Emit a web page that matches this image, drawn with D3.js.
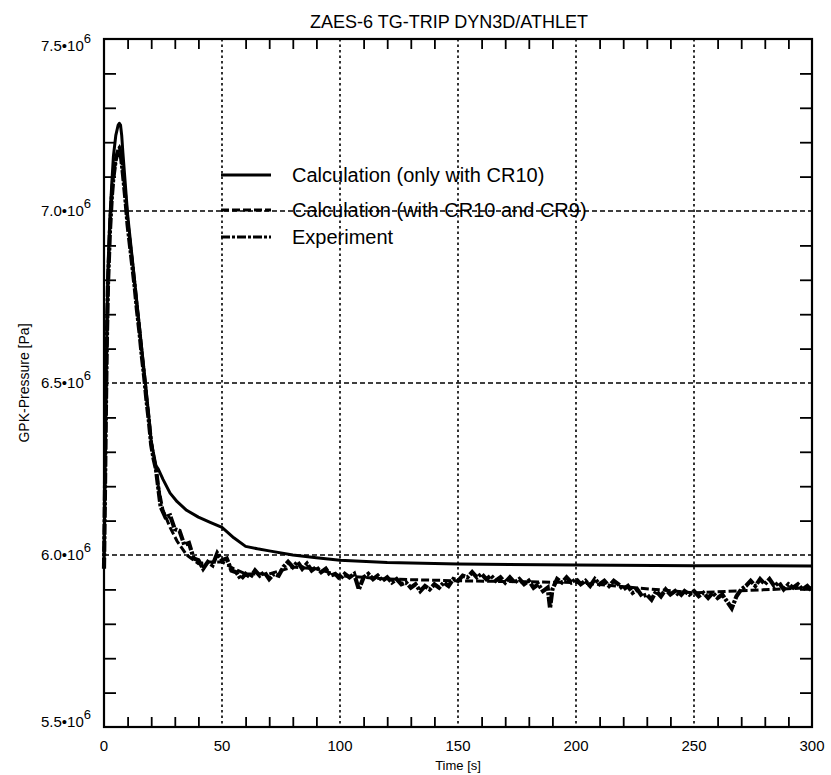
<!DOCTYPE html>
<html>
<head>
<meta charset="utf-8">
<script src="https://cdn.jsdelivr.net/npm/d3@7"></script>
<style>
  html, body { margin: 0; padding: 0; background: #fff; }
  svg { display: block; font-family: "Liberation Sans", Arial, Helvetica, sans-serif; }
</style>
</head>
<body>
<svg id="chart" width="831" height="775"></svg>
<script>
// ---- data (pressure in units of 1e6 Pa, time in s) ----
const titleText = "ZAES-6  TG-TRIP  DYN3D/ATHLET";
const xLabel = "Time [s]";
const yLabel = "GPK-Pressure [Pa]";
const xTickLabels = [0, 50, 100, 150, 200, 250, 300];
const yTickLabels = [5.5, 6.0, 6.5, 7.0, 7.5];
const legendNames = ["Calculation (only with CR10)", "Calculation (with CR10 and CR9)", "Experiment"];

const calcTime = [0, 0.4, 0.8, 1.2, 1.7, 2.5, 3.3, 4, 5, 6, 6.5, 7, 7.5, 8, 9, 10, 12, 14, 16, 18, 20, 22, 23,
  25, 28, 31, 35, 40, 45, 50, 55, 60, 65, 70, 80, 90, 100, 120, 150, 200, 250, 300];
const calcOnlyCR10 = [5.97, 6.2, 6.45, 6.65, 6.83, 6.98, 7.08, 7.16, 7.22, 7.25, 7.255, 7.25, 7.22, 7.17, 7.08, 6.99, 6.86, 6.73, 6.6, 6.47, 6.33, 6.26, 6.25,
  6.22, 6.18, 6.155, 6.13, 6.11, 6.095, 6.08, 6.05, 6.025, 6.018, 6.012, 6.0, 5.992, 5.985, 5.978, 5.974, 5.971, 5.969, 5.968];
const calcCR10CR9 = [5.97, 6.2, 6.44, 6.63, 6.8, 6.95, 7.04, 7.1, 7.15, 7.18, 7.185, 7.175, 7.15, 7.12, 7.05, 6.97, 6.85, 6.72, 6.59, 6.46, 6.33, 6.25, 6.2,
  6.13, 6.08, 6.04, 6.0, 5.975, 5.98, 5.98, 5.96, 5.945, 5.945, 5.945, 5.965, 5.96, 5.94, 5.93, 5.925, 5.92, 5.89, 5.905];

const expTime = [0, 0.4, 0.8, 1.2, 1.7, 2.5, 3.3, 4, 5, 6, 6.5, 7, 8, 9, 10, 11, 12, 13, 14, 15, 16, 17, 18, 19, 20, 21, 22,
  24, 26, 28, 30, 32, 34, 36, 38, 40, 42, 44, 46, 48, 50, 52, 54, 56, 58, 60, 62, 64, 66, 68, 70,
  72, 74, 76, 78, 80, 82, 84, 86, 88, 90, 92, 94, 96, 98, 100, 102, 104, 106, 108, 110, 112, 114, 116, 118, 120,
  122, 124, 126, 128, 130, 132, 134, 136, 138, 140, 142, 144, 146, 148, 150, 152, 154, 156, 158, 160, 162, 164, 166, 168, 170,
  172, 174, 176, 178, 180, 182, 184, 186, 188, 189, 190, 192, 194, 196, 198, 200, 202, 204, 206, 208, 210, 212, 214, 216, 218, 220,
  222, 224, 226, 228, 230, 232, 234, 236, 238, 240, 242, 244, 246, 248, 250, 252, 254, 256, 258, 260, 262, 264, 266, 268, 270,
  272, 274, 276, 278, 280, 282, 284, 286, 288, 290, 292, 294, 296, 298, 300];
const expPressure = [5.96, 6.18, 6.42, 6.62, 6.79, 6.94, 7.04, 7.1, 7.15, 7.175, 7.18, 7.17, 7.11, 7.04, 6.96, 6.9, 6.84, 6.78, 6.71, 6.65, 6.58, 6.52, 6.45, 6.39, 6.32, 6.28, 6.25,
  6.14, 6.11, 6.115, 6.075, 6.07, 6.03, 6.035, 5.99, 5.985, 5.96, 5.98, 5.97, 6.005, 5.985, 5.99, 5.955, 5.95, 5.93, 5.945, 5.935, 5.955, 5.94, 5.95, 5.93,
  5.945, 5.94, 5.965, 5.98, 5.965, 5.98, 5.96, 5.975, 5.955, 5.965, 5.95, 5.96, 5.94, 5.945, 5.93, 5.945, 5.935, 5.945, 5.9, 5.935, 5.945, 5.93, 5.94, 5.925, 5.935,
  5.92, 5.93, 5.915, 5.92, 5.905, 5.915, 5.895, 5.91, 5.9, 5.915, 5.905, 5.92, 5.91, 5.93, 5.925, 5.94, 5.935, 5.95, 5.935, 5.945, 5.93, 5.94, 5.925, 5.935, 5.92,
  5.935, 5.92, 5.93, 5.915, 5.925, 5.905, 5.915, 5.895, 5.905, 5.845, 5.9, 5.93, 5.92, 5.935, 5.92, 5.93, 5.915, 5.925, 5.91, 5.93, 5.915, 5.925, 5.91, 5.925, 5.915, 5.9,
  5.91, 5.89, 5.9, 5.88, 5.885, 5.87, 5.895, 5.88, 5.9, 5.885, 5.895, 5.88, 5.895, 5.885, 5.895, 5.88, 5.89, 5.875, 5.89, 5.875, 5.885, 5.865, 5.845, 5.88, 5.9,
  5.91, 5.925, 5.91, 5.93, 5.915, 5.93, 5.91, 5.92, 5.9, 5.915, 5.905, 5.915, 5.9, 5.91, 5.895];

// ---- layout ----
const svg = d3.select("#chart");
const m = { left: 104, right: 812, top: 39, bottom: 727 };
const x = d3.scaleLinear().domain([0, 300]).range([m.left, m.right]);
const y = d3.scaleLinear().domain([5.5, 7.5]).range([m.bottom, m.top]);

// grid lines
const g = svg.append("g");
g.selectAll(".vgrid").data(xTickLabels.filter(v => v > 0 && v < 300)).enter().append("line")
  .attr("x1", d => x(d)).attr("x2", d => x(d)).attr("y1", m.top).attr("y2", m.bottom)
  .attr("stroke", "#000").attr("stroke-width", 1.6).attr("stroke-dasharray", "2.5,3");
g.selectAll(".hgrid").data(yTickLabels.filter(v => v > 5.5 && v < 7.5)).enter().append("line")
  .attr("x1", m.left).attr("x2", m.right).attr("y1", d => y(d)).attr("y2", d => y(d))
  .attr("stroke", "#000").attr("stroke-width", 1.6).attr("stroke-dasharray", "5,3");

// minor ticks via axes
const xMinor = d3.range(10, 300, 10).filter(v => v % 50 !== 0);
const yMinor = d3.range(56, 75, 1).map(v => v / 10).filter(v => Math.round(v * 10) % 5 !== 0);
svg.append("g").attr("transform", `translate(0,${m.bottom})`)
  .call(d3.axisTop(x).tickValues(xMinor).tickSize(10).tickFormat(""))
  .call(s => { s.select(".domain").remove(); s.selectAll("line").attr("stroke-width", 1.8); });
svg.append("g").attr("transform", `translate(0,${m.top})`)
  .call(d3.axisBottom(x).tickValues(xMinor).tickSize(10).tickFormat(""))
  .call(s => { s.select(".domain").remove(); s.selectAll("line").attr("stroke-width", 1.8); });
svg.append("g").attr("transform", `translate(${m.left},0)`)
  .call(d3.axisRight(y).tickValues(yMinor).tickSize(12).tickFormat(""))
  .call(s => { s.select(".domain").remove(); s.selectAll("line").attr("stroke-width", 1.8); });
svg.append("g").attr("transform", `translate(${m.right},0)`)
  .call(d3.axisLeft(y).tickValues(yMinor).tickSize(12).tickFormat(""))
  .call(s => { s.select(".domain").remove(); s.selectAll("line").attr("stroke-width", 1.8); });

// data lines
const line = d3.line().x(d => x(d[0])).y(d => y(d[1]));
const exp = expTime.map((t, i) => [t, expPressure[i]]);
const c2 = calcTime.map((t, i) => [t, calcCR10CR9[i]]);
const c1 = calcTime.map((t, i) => [t, calcOnlyCR10[i]]);
svg.append("path").datum(c2).attr("d", line).attr("fill", "none").attr("stroke", "#000")
  .attr("stroke-width", 3).attr("stroke-dasharray", "8,3");
svg.append("path").datum(exp).attr("d", line).attr("fill", "none").attr("stroke", "#000")
  .attr("stroke-width", 4.2).attr("stroke-dasharray", "11,1.5,3,1.5").attr("stroke-linejoin", "miter");
svg.append("path").datum(c1).attr("d", line).attr("fill", "none").attr("stroke", "#000")
  .attr("stroke-width", 3).attr("stroke-linejoin", "round");

// frame
svg.append("rect").attr("x", m.left).attr("y", m.top).attr("width", m.right - m.left).attr("height", m.bottom - m.top)
  .attr("fill", "none").attr("stroke", "#000").attr("stroke-width", 2.2);

// x tick labels
svg.selectAll(".xl").data(xTickLabels).enter().append("text")
  .attr("x", d => x(d)).attr("y", 751).attr("text-anchor", "middle")
  .attr("font-size", 15).text(d => d);

// y tick labels with superscript
const yl = svg.selectAll(".yl").data(yTickLabels).enter().append("text")
  .attr("x", 91).attr("y", d => y(d) + (d === 7.5 ? 12 : d === 5.5 ? 0 : 5))
  .attr("text-anchor", "end").attr("font-size", 15);
yl.append("tspan").text(d => d.toFixed(1) + "\u202210");
yl.append("tspan").attr("dy", -8).attr("font-size", 13).text("6");

// axis titles
svg.append("text").attr("x", (m.left + m.right) / 2).attr("y", 770).attr("text-anchor", "middle")
  .attr("font-size", 13).text(xLabel);
svg.append("text").attr("transform", `translate(29,${(m.top + m.bottom) / 2}) rotate(-90)`)
  .attr("text-anchor", "middle").attr("font-size", 14).text(yLabel);
svg.append("text").attr("x", 449).attr("y", 28).attr("text-anchor", "middle")
  .attr("font-size", 18).text(titleText);

// legend
const legY = [175, 210, 237];
const dashes = [null, "8,3", "9,2,3,2"];
legendNames.forEach((name, i) => {
  const l = svg.append("line").attr("x1", 221).attr("x2", 271).attr("y1", legY[i]).attr("y2", legY[i])
    .attr("stroke", "#000").attr("stroke-width", 3);
  if (dashes[i]) l.attr("stroke-dasharray", dashes[i]);
  svg.append("text").attr("x", 292).attr("y", legY[i] + 7).attr("font-size", 20).text(name);
});
</script>
</body>
</html>
